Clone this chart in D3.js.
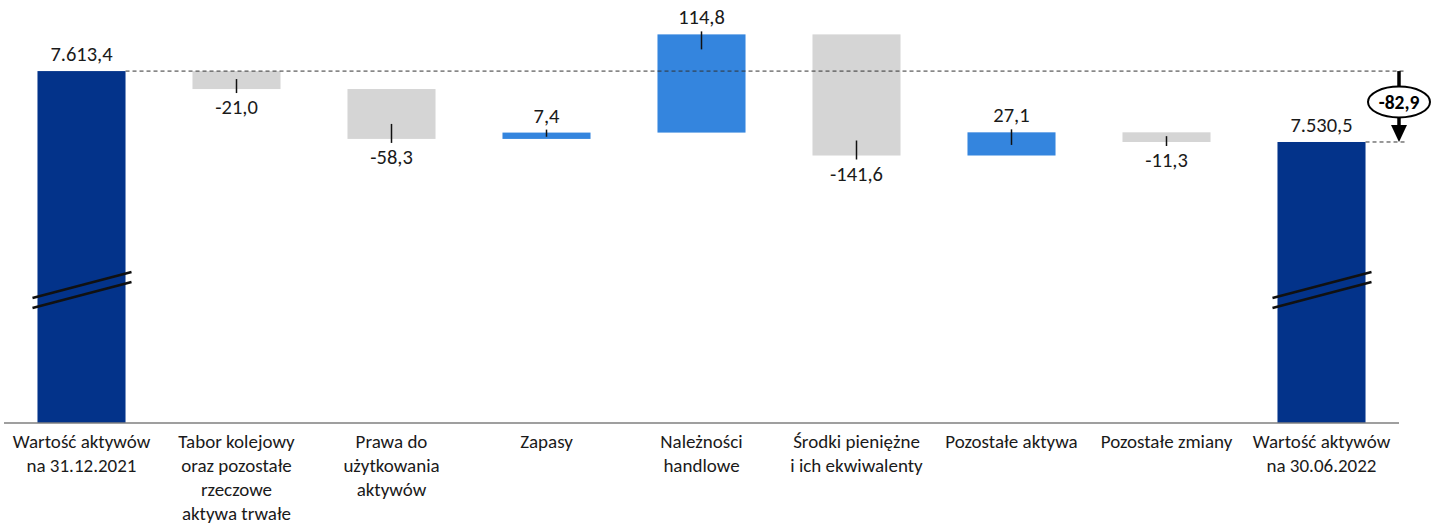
<!DOCTYPE html>
<meta charset="utf-8">
<style>
    body { margin: 0; background: #fff; }
    svg text { font-family: Carlito, Calibri, Lato, sans-serif; fill: #1a1a1a; }
    .cat { font-size: 19px; text-anchor: middle; }
    .val { font-size: 20.5px; text-anchor: middle; }
    .dash { stroke: #333; stroke-width: 1; stroke-dasharray: 4,3; fill: none; }
</style>
<svg id="svg" width="1435" height="523"></svg>
<script src="https://d3js.org/d3.v7.min.js"></script>
<script>

// categories (lines of each x label)
var categories = [
    ["Wartość aktywów", "na 31.12.2021"],
    ["Tabor kolejowy", "oraz pozostałe", "rzeczowe", "aktywa trwałe"],
    ["Prawa do", "użytkowania", "aktywów"],
    ["Zapasy"],
    ["Należności", "handlowe"],
    ["Środki pieniężne", "i ich ekwiwalenty"],
    ["Pozostałe aktywa"],
    ["Pozostałe zmiany"],
    ["Wartość aktywów", "na 30.06.2022"]
];
// changes in mln zł, first and last are totals
var values = [7613.4, -21.0, -58.3, 7.4, 114.8, -141.6, 27.1, -11.3, 7530.5];
var kinds = ["total", "delta", "delta", "delta", "delta", "delta", "delta", "delta", "total"];
var totalChange = -82.9;

var svg = d3.select("svg");

var colors = {total: "#03338a", up: "#3485de", down: "#d5d5d5"};

var fmt = function(v) {
    var s = Math.abs(v).toFixed(1).split(".");
    var intp = s[0].replace(/\B(?=(\d{3})+(?!\d))/g, ".");
    return (v < 0 ? "-" : "") + intp + "," + s[1];
};

var x = d3.scaleBand()
    .domain(d3.range(categories.length))
    .range([4, 1399])
    .paddingInner(0.432)
    .paddingOuter(0.216);

// broken axis: only the top part of the value range is shown
var y = d3.scaleLinear()
    .domain([7202, 7700])
    .range([423, -3]);

// build waterfall rows
var run = 0;
var rows = values.map(function(v, i) {
    var r = {i: i, v: v, kind: kinds[i]};
    if (kinds[i] == "total") {
        r.y0 = y.domain()[0]; r.y1 = v; run = v;
        r.color = colors.total;
    } else {
        r.y0 = run; r.y1 = run + v; run = run + v;
        r.color = v >= 0 ? colors.up : colors.down;
    }
    return r;
});

svg.selectAll(".bar")
    .data(rows)
    .enter().append("rect")
    .attr("class", "bar")
    .attr("x", function(d) { return x(d.i); })
    .attr("width", x.bandwidth())
    .attr("y", function(d) { return y(Math.max(d.y0, d.y1)); })
    .attr("height", function(d) { return Math.abs(y(d.y0) - y(d.y1)); })
    .attr("fill", function(d) { return d.color; });

// axis line
svg.append("line")
    .attr("x1", 4).attr("x2", 1399)
    .attr("y1", y.range()[0]).attr("y2", y.range()[0])
    .attr("stroke", "#7f7f7f").attr("stroke-width", 1.5);

// value labels + little connector ticks
rows.forEach(function(d) {
    var cx = x(d.i) + x.bandwidth() / 2;
    var up = d.kind == "total" || d.v >= 0;
    var edge = y(d.y1);
    var h = Math.abs(y(d.y0) - y(d.y1));
    if (d.kind != "total") {
        var inward = Math.min(15, h / 2 + 1);
        svg.append("line")
            .attr("x1", cx).attr("x2", cx)
            .attr("y1", up ? edge - 3 : edge + 4)
            .attr("y2", up ? edge + inward : edge - inward)
            .attr("stroke", "#111").attr("stroke-width", 1.5);
    }
    svg.append("text")
        .attr("class", "val")
        .attr("x", cx)
        .attr("y", up ? edge - 10 : edge + 25)
        .text(fmt(d.v));
});

// axis break marks on total bars
rows.filter(function(d) { return d.kind == "total"; }).forEach(function(d) {
    var x0 = x(d.i) - 5, x1 = x(d.i) + x.bandwidth() + 6;
    [0, 10].forEach(function(off) {
        svg.append("line")
            .attr("x1", x0).attr("y1", 298 + off)
            .attr("x2", x1).attr("y2", 272 + off)
            .attr("stroke", "#111").attr("stroke-width", 2.5);
    });
});

// category labels
svg.selectAll(".cat")
    .data(categories)
    .enter().append("text")
    .attr("class", "cat")
    .attr("x", function(d, i) { return x(i) + x.bandwidth() / 2; })
    .attr("y", 448)
    .selectAll("tspan")
    .data(function(d) { return d; })
    .enter().append("tspan")
    .attr("x", function() { return d3.select(this.parentNode).attr("x"); })
    .attr("dy", function(d, j) { return j == 0 ? 0 : 24; })
    .text(function(d) { return d; });

// reference dashed lines and total change arrow
var first = rows[0], last = rows[rows.length - 1];
var ax = 1399;
svg.append("line").attr("class", "dash")
    .attr("x1", x(0) + x.bandwidth()).attr("x2", ax + 6)
    .attr("y1", y(first.v)).attr("y2", y(first.v));
svg.append("line").attr("class", "dash")
    .attr("x1", x(last.i) + x.bandwidth()).attr("x2", ax + 6)
    .attr("y1", y(last.v)).attr("y2", y(last.v));

var ey = 102;
svg.append("line")
    .attr("x1", ax).attr("x2", ax)
    .attr("y1", y(first.v)).attr("y2", ey - 15)
    .attr("stroke", "#000").attr("stroke-width", 3.5);
svg.append("line")
    .attr("x1", ax).attr("x2", ax)
    .attr("y1", ey + 15).attr("y2", y(last.v) - 14)
    .attr("stroke", "#000").attr("stroke-width", 3.5);
svg.append("path")
    .attr("d", "M" + (ax - 8) + "," + (y(last.v) - 17) + "L" + (ax + 8) + "," + (y(last.v) - 17) + "L" + ax + "," + y(last.v) + "Z")
    .attr("fill", "#000");
svg.append("ellipse")
    .attr("cx", ax).attr("cy", ey).attr("rx", 31).attr("ry", 15.5)
    .attr("fill", "#fff").attr("stroke", "#000").attr("stroke-width", 2);
svg.append("text")
    .attr("x", ax).attr("y", ey + 7)
    .attr("text-anchor", "middle")
    .style("font-size", "19.5px").style("font-weight", "bold").style("fill", "#000")
    .text(fmt(totalChange));

</script>
